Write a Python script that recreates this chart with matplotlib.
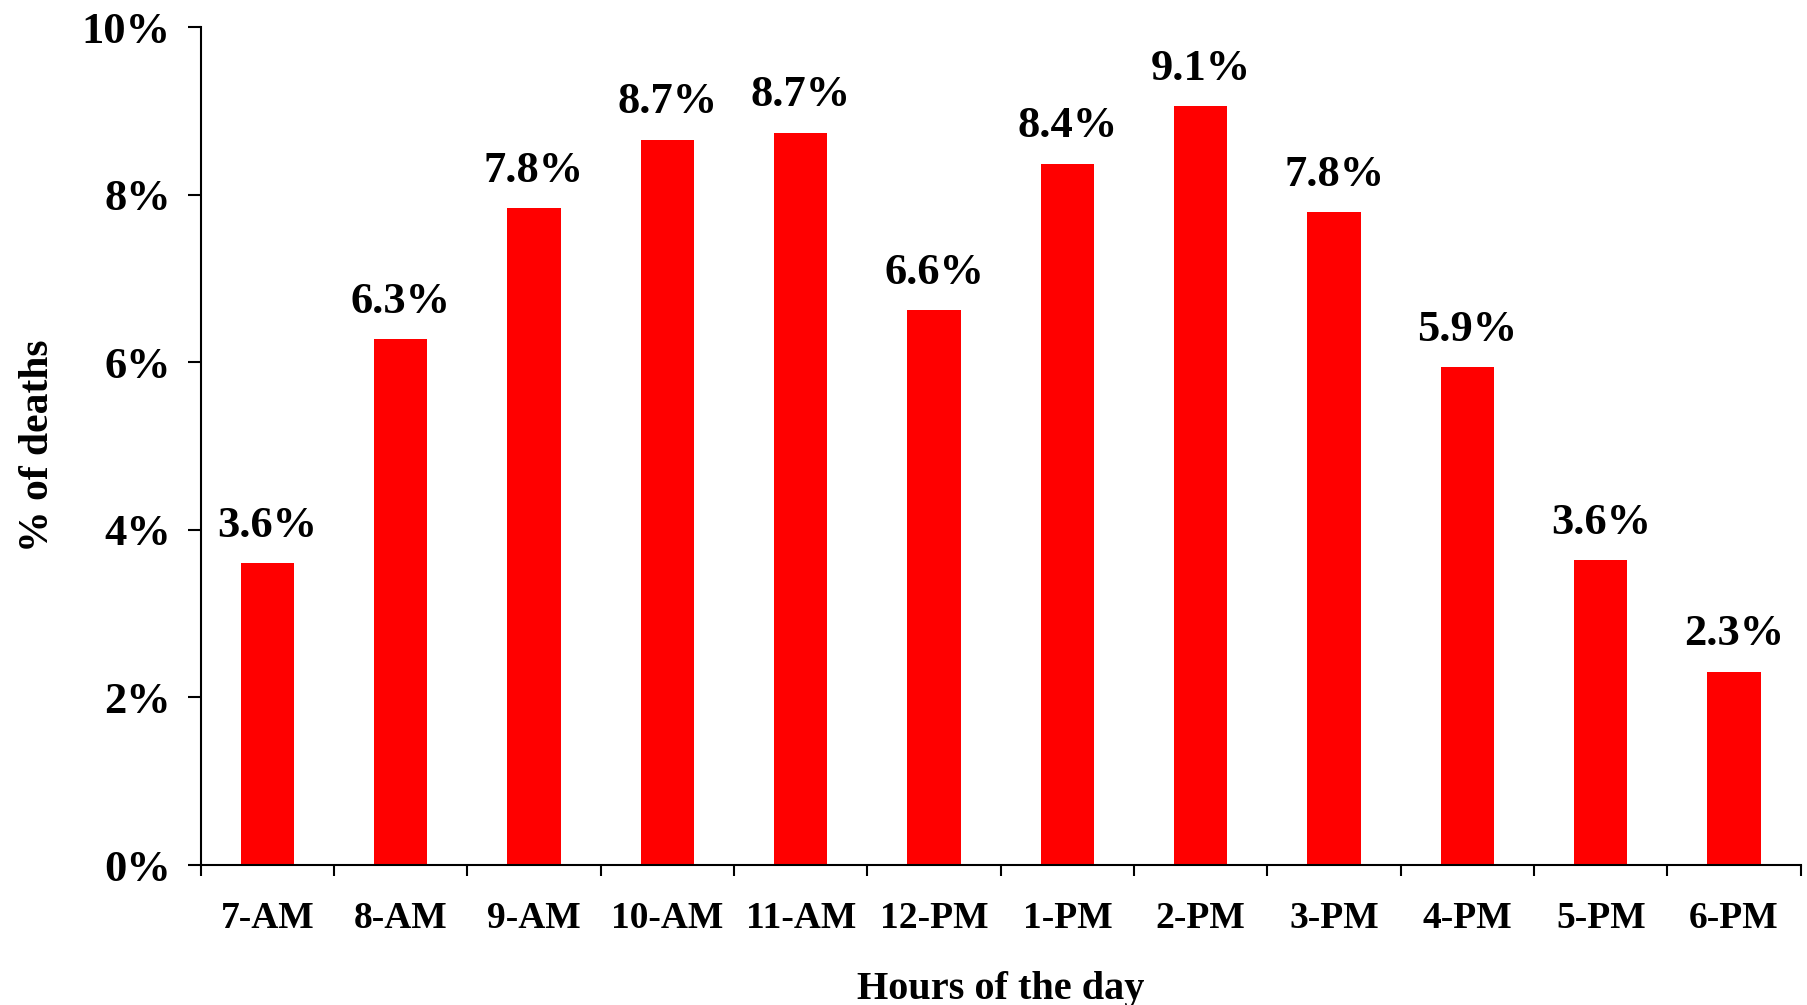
import matplotlib
matplotlib.use('Agg')
from matplotlib import pyplot as plt
from matplotlib.ticker import FixedLocator, FuncFormatter

plt.rcParams['font.family'] = ['Liberation Serif', 'DejaVu Serif']
plt.rcParams['font.weight'] = 'bold'

# data
hours = ['7-AM', '8-AM', '9-AM', '10-AM', '11-AM', '12-PM',
         '1-PM', '2-PM', '3-PM', '4-PM', '5-PM', '6-PM']
deaths_pct = [3.6, 6.28, 7.84, 8.66, 8.74, 6.62, 8.37, 9.06, 7.79, 5.94, 3.64, 2.31]
y_ticks = [0, 2, 4, 6, 8, 10]

fig = plt.figure(figsize=(18.08, 10.05), dpi=100)
ax = fig.add_axes([0.111, 0.1393, 0.885, 0.8335])

pos = list(range(len(hours)))
ax.bar(pos, deaths_pct, width=0.4, color='#ff0000', zorder=2)

# value labels above bars
for x, v in zip(pos, deaths_pct):
    ax.annotate('%.1f%%' % v, (x, v), xytext=(0, 19), textcoords='offset points',
                ha='center', va='baseline', fontsize=32, fontweight='bold')

ax.set_xlim(-0.5, len(hours) - 0.5)
ax.set_ylim(0, 10)

# ticks between categories, labels centred under bars
ax.xaxis.set_major_locator(FixedLocator([p - 0.5 for p in pos] + [len(hours) - 0.5]))
ax.xaxis.set_major_formatter(FuncFormatter(lambda v, p: ''))
ax.xaxis.set_minor_locator(FixedLocator(pos))
ax.set_xticklabels(hours, minor=True)
ax.tick_params(axis='x', which='major', direction='out', length=8, width=1.5)
ax.tick_params(axis='x', which='minor', length=0, pad=26, labelsize=27)

ax.set_yticks(y_ticks)
ax.yaxis.set_major_formatter(FuncFormatter(lambda v, p: '%d%%' % v))
ax.tick_params(axis='y', direction='out', length=9.5, width=1.5, pad=12, labelsize=32)

for lab in ax.get_xticklabels(minor=True) + ax.get_yticklabels():
    lab.set_fontweight('bold')

for s in ['top', 'right']:
    ax.spines[s].set_visible(False)
for s in ['left', 'bottom']:
    ax.spines[s].set_linewidth(1.5)

ax.set_xlabel('Hours of the day', fontsize=29, fontweight='bold', labelpad=25)
ax.set_ylabel('% of deaths', fontsize=30, fontweight='bold', labelpad=18)

fig.savefig('out.png', dpi=100)
